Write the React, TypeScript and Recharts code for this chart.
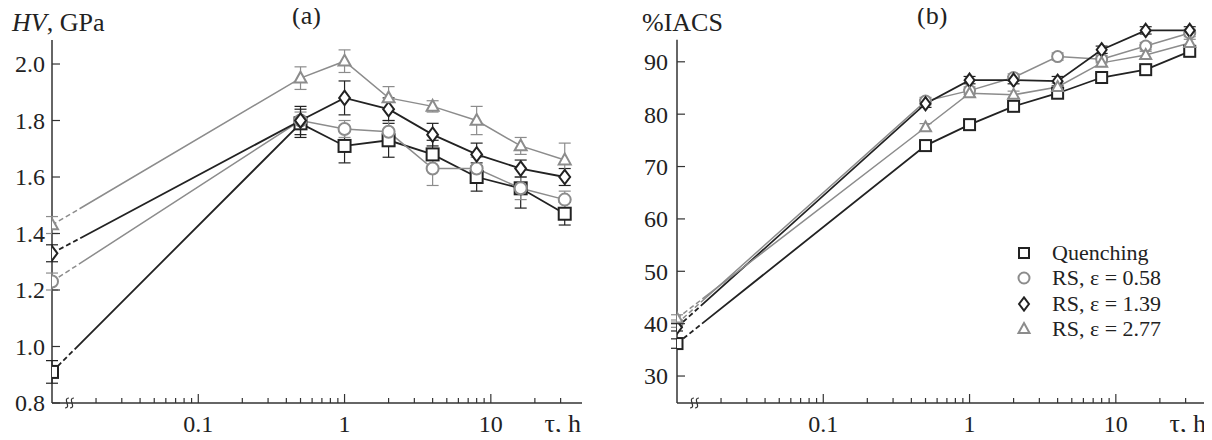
import React from 'react';
import { LineChart, Line, XAxis, YAxis, ErrorBar, Legend, ReferenceLine } from 'recharts';

// ageing time, h (0 = quenched state, drawn at the axis break)
const TAU = [0, 0.5, 1, 2, 4, 8, 16, 32];

// (a) microhardness HV, GPa
const HV_QUENCH = [0.91, 1.79, 1.71, 1.73, 1.68, 1.6, 1.56, 1.47];
const HV_QUENCH_ERR = [0.04, 0.05, 0.06, 0.06, 0.05, 0.05, 0.07, 0.04];
const HV_RS058 = [1.23, 1.8, 1.77, 1.76, 1.63, 1.63, 1.56, 1.52];
const HV_RS058_ERR = [0.03, 0.03, 0.03, 0.04, 0.06, 0.04, 0.04, 0.03];
const HV_RS139 = [1.33, 1.8, 1.88, 1.84, 1.75, 1.68, 1.63, 1.6];
const HV_RS139_ERR = [0.03, 0.05, 0.06, 0.04, 0.04, 0.04, 0.03, 0.03];
const HV_RS277 = [1.43, 1.95, 2.01, 1.88, 1.85, 1.8, 1.71, 1.66];
const HV_RS277_ERR = [0.03, 0.04, 0.04, 0.04, 0.02, 0.05, 0.03, 0.06];

// (b) electrical conductivity, %IACS
const EC_QUENCH = [36.2, 74, 78, 81.5, 84, 87, 88.5, 92];
const EC_QUENCH_ERR = [0.9, 0.7, 0.7, 0.7, 0.7, 0.7, 0.7, 0.9];
const EC_RS058 = [40, 82.5, 84.5, 87, 91, 90.5, 93, 95.5];
const EC_RS058_ERR = [0.7, 0.7, 0.7, 0.7, 0.7, 0.7, 0.7, 0.7];
const EC_RS139 = [39.3, 82, 86.5, 86.5, 86.3, 92.3, 96, 96];
const EC_RS139_ERR = [0.7, 0.7, 0.7, 0.7, 0.9, 0.7, 0.7, 0.7];
const EC_RS277 = [41, 77.5, 84, 83.7, 85.2, 89.8, 91.3, 93.6];
const EC_RS277_ERR = [0.7, 0.7, 0.7, 0.7, 0.7, 0.7, 0.7, 0.7];

const SERIES_NAMES = ['Quenching', 'RS, ε = 0.58', 'RS, ε = 1.39', 'RS, ε = 2.77'];
const SHAPES = ['square', 'circle', 'diamond', 'triangle'] as const;

const HV_TICKS = [0.8, 1.0, 1.2, 1.4, 1.6, 1.8, 2.0];
const EC_TICKS = [30, 40, 50, 60, 70, 80, 90];
const X_MIN = 0.01;
const X_MAJOR = [0.1, 1, 10];
const X_MINOR = [
  0.02, 0.03, 0.04, 0.05, 0.06, 0.07, 0.08, 0.09,
  0.2, 0.3, 0.4, 0.5, 0.6, 0.7, 0.8, 0.9,
  2, 3, 4, 5, 6, 7, 8, 9, 20, 30,
];

const DARK = '#222';
const GREY = '#8c8c8c';
const COLORS = [DARK, GREY, DARK, GREY];
const WIDTHS = [1.8, 1.5, 1.8, 1.5];
const FONT = '"Liberation Serif", "Times New Roman", serif';

type Shape = (typeof SHAPES)[number];

const marker = (shape: Shape, cx: number, cy: number, s: number, color: string, key?: any) => {
  const common = { fill: '#fff', stroke: color, strokeWidth: 2, key };
  if (shape === 'square') return <rect {...common} x={cx - s / 2} y={cy - s / 2} width={s} height={s} />;
  if (shape === 'circle') return <circle {...common} cx={cx} cy={cy} r={s / 2} />;
  if (shape === 'diamond') {
    const w = s * 0.45, h = s * 0.6;
    return <polygon {...common} points={`${cx},${cy - h} ${cx + w},${cy} ${cx},${cy + h} ${cx - w},${cy}`} />;
  }
  const h = s * 0.9;
  return (
    <polygon
      {...common}
      points={`${cx},${cy - h * 0.6} ${cx + s / 2},${cy + h * 0.4} ${cx - s / 2},${cy + h * 0.4}`}
    />
  );
};

const makeDot = (shape: Shape, color: string, size: number) => (props: any) => {
  const { cx, cy, index } = props;
  if (cx == null || cy == null) return <g key={index} />;
  return marker(shape, cx, cy, size, color, index);
};

const toData = (vals: number[], errs: number[]) =>
  TAU.map((t, i) => ({ x: t === 0 ? X_MIN : t, y: vals[i], e: errs[i] }));

const XTick = (props: any) => {
  const { x, y, payload } = props;
  const v = payload.value;
  if (v === X_MIN) {
    // axis break sign
    const bx = x + 14;
    const s = (ox: number) =>
      `M${ox - 1} ${y + 5} C${ox + 6} ${y + 5} ${ox - 4} ${y - 5} ${ox + 3} ${y - 5}`;
    return (
      <g stroke="#333" strokeWidth={1.2} fill="none">
        <path d={s(bx)} />
        <path d={s(bx + 5)} />
      </g>
    );
  }
  const major = X_MAJOR.includes(v);
  return (
    <g>
      <line x1={x} x2={x} y1={y} y2={y - (major ? 9 : 5)} stroke="#333" strokeWidth={1.2} />
      {major && (
        <text x={x} y={y + 29} textAnchor="middle" fontFamily={FONT} fontSize={24} fill="#222">
          {String(v)}
        </text>
      )}
    </g>
  );
};

const makeYTick = (digits: number, gap: number) => (props: any) => {
  const { x, y, payload } = props;
  return (
    <g>
      <line x1={x} x2={x + 8} y1={y} y2={y} stroke="#333" strokeWidth={1.2} />
      <text x={x - gap} y={y} dy="0.35em" textAnchor="end" fontFamily={FONT} fontSize={24} fill="#222">
        {payload.value.toFixed(digits)}
      </text>
    </g>
  );
};

const tauLabel = (props: any) => {
  const { viewBox } = props;
  return (
    <text
      x={viewBox.x + viewBox.width - 1}
      y={viewBox.y + 29}
      textAnchor="end"
      fontFamily={FONT}
      fontSize={26}
      fill="#222"
    >
      τ, h
    </text>
  );
};

const LegendBox = () => (
  <div style={{ fontFamily: FONT, fontSize: 22, color: '#222', lineHeight: 1 }}>
    {SERIES_NAMES.map((name, i) => (
      <div key={name} style={{ display: 'flex', alignItems: 'center', height: 25.5 }}>
        <svg width={16} height={16} style={{ marginRight: 20 }}>
          {marker(SHAPES[i], 8, 8, i === 0 ? 10 : 11, COLORS[i])}
        </svg>
        <span>{name}</span>
      </div>
    ))}
  </div>
);

interface PanelProps {
  series: { vals: number[]; errs: number[] }[];
  yDomain: [number, number];
  axisTop: number;
  yTicks: number[];
  digits: number;
  tickGap: number;
  width: number;
  top: number;
  markerSize: number;
  yLabel: React.ReactNode;
  labelX: number;
  legend?: boolean;
}

const Panel = ({
  series, yDomain, axisTop, yTicks, digits, tickGap, width, top, markerSize, yLabel, labelX, legend,
}: PanelProps) => (
  <LineChart width={width} height={440} margin={{ top, right: width - 582, bottom: 0, left: 0 }}>
    <XAxis
      type="number"
      dataKey="x"
      scale="log"
      domain={[X_MIN, 42]}
      allowDataOverflow
      ticks={[X_MIN, ...X_MINOR, ...X_MAJOR].sort((a, b) => a - b)}
      interval={0}
      tickSize={0}
      tickMargin={0}
      tickLine={false}
      tick={XTick}
      height={37}
      axisLine={{ stroke: '#333', strokeWidth: 1.5 }}
      label={{ content: tauLabel }}
    />
    <YAxis
      type="number"
      domain={yDomain}
      allowDataOverflow
      ticks={yTicks}
      interval={0}
      tickSize={0}
      tickMargin={0}
      tickLine={false}
      tick={makeYTick(digits, tickGap)}
      width={52}
      axisLine={false}
      label={{
        content: () => (
          <text x={labelX} y={31} fontFamily={FONT} fontSize={26} fill="#222">
            {yLabel}
          </text>
        ),
      }}
    />
    <ReferenceLine
      segment={[
        { x: X_MIN, y: yDomain[0] },
        { x: X_MIN, y: axisTop },
      ]}
      stroke="#333"
      strokeWidth={1.5}
    />
    {series.map((s, i) => (
      <Line
        key={SERIES_NAMES[i]}
        name={SERIES_NAMES[i]}
        data={toData(s.vals, s.errs)}
        dataKey="y"
        type="linear"
        stroke={COLORS[i]}
        strokeWidth={WIDTHS[i]}
        strokeDasharray="5 3 5 3 5 3 5 3 3000"
        dot={makeDot(SHAPES[i], COLORS[i], markerSize)}
        activeDot={false}
        isAnimationActive={false}
      >
        <ErrorBar dataKey="e" direction="y" width={6} stroke={COLORS[i]} strokeWidth={1.2} />
      </Line>
    ))}
    {legend && (
      <Legend
        layout="vertical"
        align="center"
        verticalAlign="middle"
        content={LegendBox}
        wrapperStyle={{ position: 'absolute', left: 391, top: 240, width: 200 }}
      />
    )}
  </LineChart>
);

const titleStyle: React.CSSProperties = {
  position: 'absolute',
  top: 1,
  fontFamily: FONT,
  fontSize: 26,
  color: '#222',
};

export default function App() {
  return (
    <div style={{ position: 'relative', width: 1212, height: 440, margin: -8, background: '#fff' }}>
      <div style={{ position: 'absolute', left: 0, top: 0 }}>
        <Panel
          series={[
            { vals: HV_QUENCH, errs: HV_QUENCH_ERR },
            { vals: HV_RS058, errs: HV_RS058_ERR },
            { vals: HV_RS139, errs: HV_RS139_ERR },
            { vals: HV_RS277, errs: HV_RS277_ERR },
          ]}
          yDomain={[0.8, 2.085]}
          axisTop={2.085}
          yTicks={HV_TICKS}
          digits={1}
          tickGap={7}
          width={600}
          top={40}
          markerSize={12}
          labelX={12}
          yLabel={
            <>
              <tspan fontStyle="italic">HV</tspan>
              <tspan>, GPa</tspan>
            </>
          }
        />
      </div>
      <div style={{ position: 'absolute', left: 625, top: 0 }}>
        <Panel
          series={[
            { vals: EC_QUENCH, errs: EC_QUENCH_ERR },
            { vals: EC_RS058, errs: EC_RS058_ERR },
            { vals: EC_RS139, errs: EC_RS139_ERR },
            { vals: EC_RS277, errs: EC_RS277_ERR },
          ]}
          yDomain={[24.85, 97.6]}
          axisTop={94.2}
          yTicks={EC_TICKS}
          digits={0}
          tickGap={9}
          width={587}
          top={22}
          markerSize={11}
          labelX={17}
          yLabel="%IACS"
          legend
        />
      </div>
      <div style={{ ...titleStyle, left: 292 }}>(a)</div>
      <div style={{ ...titleStyle, left: 917 }}>(b)</div>
    </div>
  );
}
